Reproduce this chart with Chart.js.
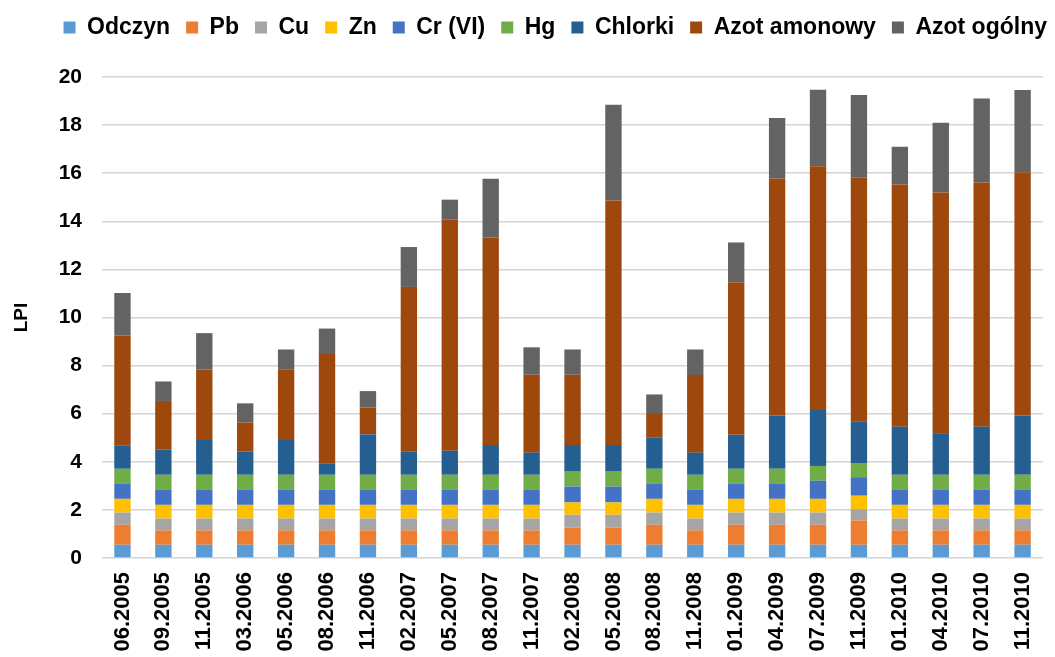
<!DOCTYPE html>
<html>
<head>
<meta charset="utf-8">
<script src="https://cdn.jsdelivr.net/npm/chart.js@4"></script>
<style>
  body { margin: 0; overflow: hidden; background: #fff; }
  #wrap { width: 1063px; height: 657px; }
</style>
</head>
<body>
<div id="wrap"><canvas id="lpiChart"></canvas></div>
<script>
const dates = ['06.2005', '09.2005', '11.2005', '03.2006', '05.2006', '08.2006', '11.2006',
  '02.2007', '05.2007', '08.2007', '11.2007', '02.2008', '05.2008', '08.2008', '11.2008',
  '01.2009', '04.2009', '07.2009', '11.2009', '01.2010', '04.2010', '07.2010', '11.2010'];

const odczyn = [0.55, 0.55, 0.55, 0.55, 0.55, 0.55, 0.55, 0.55, 0.55, 0.55, 0.55, 0.55,
  0.55, 0.55, 0.55, 0.55, 0.55, 0.55, 0.55, 0.55, 0.55, 0.55, 0.55];
const pb = [0.83, 0.60, 0.60, 0.60, 0.60, 0.60, 0.60, 0.60, 0.60, 0.60, 0.60, 0.72,
  0.72, 0.83, 0.60, 0.83, 0.83, 0.83, 1.01, 0.60, 0.60, 0.60, 0.60];
const cu = [0.51, 0.49, 0.49, 0.49, 0.49, 0.49, 0.49, 0.49, 0.49, 0.49, 0.49, 0.53,
  0.53, 0.51, 0.49, 0.51, 0.51, 0.51, 0.47, 0.49, 0.49, 0.49, 0.49];
const zn = [0.57, 0.57, 0.57, 0.57, 0.57, 0.57, 0.57, 0.57, 0.57, 0.57, 0.57, 0.51,
  0.51, 0.57, 0.57, 0.57, 0.57, 0.57, 0.56, 0.57, 0.57, 0.57, 0.57];
const crVI = [0.62, 0.62, 0.62, 0.62, 0.62, 0.62, 0.62, 0.62, 0.62, 0.62, 0.62, 0.66,
  0.66, 0.62, 0.62, 0.62, 0.62, 0.75, 0.77, 0.62, 0.62, 0.62, 0.62];
const hg = [0.63, 0.63, 0.63, 0.63, 0.63, 0.63, 0.63, 0.63, 0.63, 0.63, 0.63, 0.62,
  0.62, 0.63, 0.63, 0.63, 0.63, 0.62, 0.59, 0.63, 0.63, 0.63, 0.63];
const chlorki = [0.96, 1.06, 1.45, 0.96, 1.45, 0.48, 1.68, 0.96, 1.00, 1.24, 0.92, 1.11,
  1.11, 1.31, 0.92, 1.41, 2.21, 2.32, 1.72, 2.00, 1.73, 2.00, 2.46];
const azotAmonowy = [4.58, 2.01, 2.92, 1.21, 2.94, 4.54, 1.11, 6.85, 9.61, 8.63, 3.24, 2.92,
  10.17, 1.01, 3.23, 6.35, 9.86, 10.14, 10.14, 10.07, 10.01, 10.15, 10.12];
const azotOgolny = [1.77, 0.81, 1.52, 0.80, 0.82, 1.06, 0.69, 1.66, 0.83, 2.44, 1.14, 1.05,
  3.98, 0.77, 1.06, 1.65, 2.52, 3.18, 3.44, 1.57, 2.90, 3.50, 3.42];

const seriesNames = ['Odczyn', 'Pb', 'Cu', 'Zn', 'Cr (VI)', 'Hg', 'Chlorki', 'Azot amonowy', 'Azot ogólny'];
const seriesValues = [odczyn, pb, cu, zn, crVI, hg, chlorki, azotAmonowy, azotOgolny];
const seriesColors = ['#5B9BD5', '#ED7D31', '#A5A5A5', '#FFC000', '#4472C4', '#70AD47',
  '#255E91', '#9E480E', '#636363'];

Chart.defaults.font.family = "'Liberation Sans', Arial, sans-serif";
Chart.defaults.color = '#000';

// legend takes the whole strip above the plot
const legendStrip = {
  id: 'legendStrip',
  beforeInit(chart) {
    const origFit = chart.legend.fit;
    chart.legend.fit = function() {
      origFit.bind(chart.legend)();
      this.height = 77;
    };
  }
};

const ctx = document.getElementById('lpiChart').getContext('2d');
new Chart(ctx, {
  type: 'bar',
  data: {
    labels: dates,
    datasets: seriesNames.map(function(name, i) {
      return {
        label: name,
        data: seriesValues[i],
        backgroundColor: seriesColors[i],
        borderWidth: 0,
        barPercentage: 0.4,
        categoryPercentage: 1.0
      };
    })
  },
  options: {
    responsive: true,
    maintainAspectRatio: false,
    animation: false,
    layout: { padding: 0 },
    plugins: {
      legend: {
        position: 'top',
        align: 'end',
        labels: {
          boxWidth: 12,
          boxHeight: 12,
          padding: 16,
          font: { size: 23, weight: 'bold' },
          color: '#000'
        }
      },
      tooltip: { enabled: false }
    },
    scales: {
      x: {
        stacked: true,
        grid: { display: false, drawTicks: false },
        border: { display: false },
        ticks: {
          autoSkip: false,
          minRotation: 90,
          maxRotation: 90,
          padding: 14,
          font: { size: 22, weight: 'bold' },
          color: '#000'
        },
        afterFit: function(scale) { scale.height = 99; }
      },
      y: {
        stacked: true,
        min: 0,
        max: 20,
        grid: { color: '#d4d4d4', lineWidth: 1.5, drawTicks: false },
        border: { display: false },
        ticks: {
          stepSize: 2,
          padding: 20,
          font: { size: 21, weight: 'bold' },
          color: '#000'
        },
        title: {
          display: true,
          text: 'LPI',
          font: { size: 19, weight: 'bold' },
          color: '#000',
          padding: { top: 10, bottom: 0 }
        },
        afterFit: function(scale) { scale.width = 102; }
      }
    }
  },
  plugins: [legendStrip]
});
</script>
</body>
</html>
